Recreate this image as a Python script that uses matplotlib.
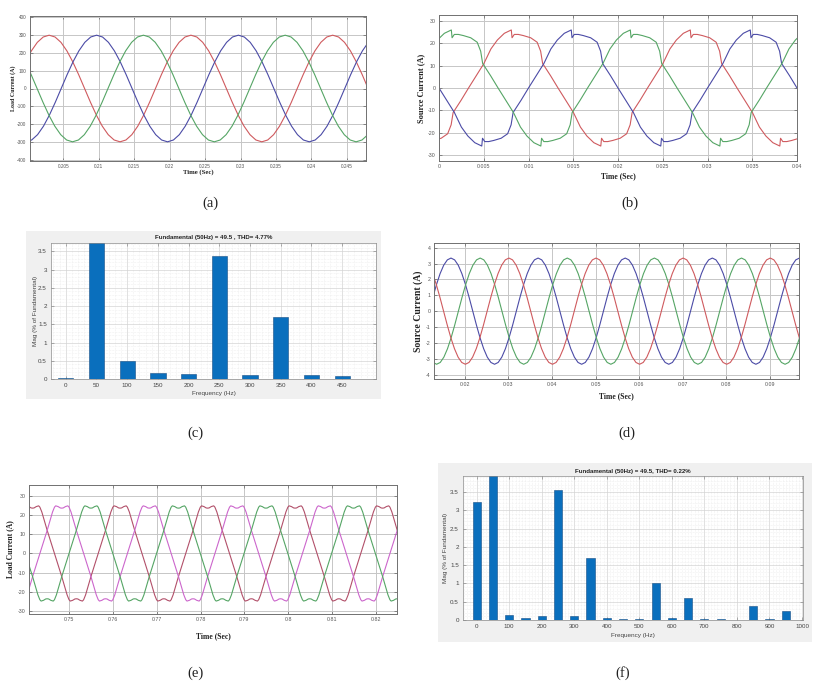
import numpy as np
import matplotlib
matplotlib.use('Agg')
import matplotlib.pyplot as plt
from matplotlib.ticker import MultipleLocator, FuncFormatter
from matplotlib.patches import Rectangle

W, H = 816, 683

# ------------------------------------------------------------------ data
PERIOD = 0.02  # 50 Hz

# one period of a clean sinusoid, read at 15 degree steps (relative to peak)
sine_deg = [0, 15, 30, 45, 60, 75, 90, 105, 120, 135, 150, 165,
            180, 195, 210, 225, 240, 255, 270, 285, 300, 315, 330, 345]
sine_val = [1.0, 0.966, 0.866, 0.707, 0.5, 0.259, 0.0, -0.259, -0.5, -0.707, -0.866, -0.966,
            -1.0, -0.966, -0.866, -0.707, -0.5, -0.259, 0.0, 0.259, 0.5, 0.707, 0.866, 0.966]

# (a) load current
a_amp = 300
a_peak = {'red': 0.2030, 'blue': 0.2097, 'green': 0.2163}
a_xticks = [0.205, 0.21, 0.215, 0.22, 0.225, 0.23, 0.235, 0.24, 0.245]
a_yticks = [-400, -300, -200, -100, 0, 100, 200, 300, 400]

# (b) source current, half-wave shape relative to rising zero crossing
b_half_deg = [0, 31, 45, 58, 72, 84, 86, 87.5, 92, 100, 110, 125, 138, 145, 149, 165]
b_half_val = [0, 11, 17.5, 21.5, 24.5, 25.8, 26, 22.5, 24, 24, 23.5, 22.5, 20.5, 16.5, 11, 5.5]
b_rise = {'red': 0.0033, 'blue': 0.0100, 'green': 0.0166}
b_xticks = [0, 0.005, 0.01, 0.015, 0.02, 0.025, 0.03, 0.035, 0.04]
b_yticks = [-30, -20, -10, 0, 10, 20, 30]

# (c) FFT of source current
c_freq = [0, 50, 100, 150, 200, 250, 300, 350, 400, 450]
c_mag = [0.02, 100, 0.48, 0.17, 0.14, 3.36, 0.10, 1.71, 0.10, 0.07]
c_title = 'Fundamental (50Hz) = 49.5 , THD= 4.77%'

# (d) compensated source current
d_amp = 3.35
d_peak = {'blue': 0.0168, 'green': 0.0235, 'red': 0.0301}
d_xticks = [0.02, 0.03, 0.04, 0.05, 0.06, 0.07, 0.08, 0.09]
d_yticks = [-4, -3, -2, -1, 0, 1, 2, 3, 4]

# (e) load current, half-wave shape relative to peak (double-humped flat top)
e_half_deg = [-90, -60, -46, -38, -30, -25, -15, -6, 0, 6, 15, 25, 30, 38, 46, 60]
e_half_val = [0, 12, 18, 21.5, 24.0, 24.7, 24.3, 23.6, 23.5, 23.6, 24.3, 24.7, 24.0, 21.5, 18, 12]
e_peak = {'rose': 0.74162, 'magenta': 0.74829, 'green': 0.75495}
e_xticks = [0.75, 0.76, 0.77, 0.78, 0.79, 0.8, 0.81, 0.82]
e_yticks = [-30, -20, -10, 0, 10, 20, 30]

# (f) FFT
f_freq = [0, 50, 100, 150, 200, 250, 300, 350, 400, 450,
          500, 550, 600, 650, 700, 750, 800, 850, 900, 950]
f_mag = [3.24, 100, 0.14, 0.05, 0.11, 3.56, 0.10, 1.69, 0.06, 0.03,
         0.04, 1.00, 0.05, 0.60, 0.03, 0.03, 0.01, 0.38, 0.03, 0.25]
f_title = 'Fundamental (50Hz) = 49.5, THD= 0.22%'

COL = {'red': '#cf5a5e', 'blue': '#4b4ba6', 'green': '#55a565',
       'rose': '#b2506a', 'magenta': '#cc66cc'}

SERIF = ['Liberation Serif', 'DejaVu Serif']
SANS = ['Liberation Sans', 'DejaVu Sans']

# ------------------------------------------------------------------ helpers
fig = plt.figure(figsize=(W / 100, H / 100), dpi=100)
fig.patch.set_facecolor('white')


def ax_px(box):
    x0, y0, x1, y1 = box
    return fig.add_axes([x0 / W, 1 - y1 / H, (x1 - x0) / W, (y1 - y0) / H])


def tile(deg, val, t_ref, t0, t1):
    deg = np.asarray(deg, float)
    val = np.asarray(val, float)
    k0 = int(np.floor((t0 - t_ref) / PERIOD)) - 1
    k1 = int(np.ceil((t1 - t_ref) / PERIOD)) + 1
    ts = [t_ref + (deg / 360.0 + k) * PERIOD for k in range(k0, k1 + 1)]
    vs = [val for _ in range(k0, k1 + 1)]
    return np.concatenate(ts), np.concatenate(vs)


def full_wave(half_deg, half_val):
    deg = list(half_deg) + [d + 180 for d in half_deg]
    val = list(half_val) + [-v for v in half_val]
    return deg, val


def place_labels(ax, box, xlab_y, ylab_x):
    x0, y0, x1, y1 = box
    ax.xaxis.set_label_coords(0.5, (y1 - xlab_y) / (y1 - y0))
    ax.xaxis.label.set_va('center')
    ax.yaxis.set_label_coords((ylab_x - x0) / (x1 - x0), 0.5)
    ax.yaxis.label.set_va('center')


def style_time(ax, box, xlim, ylim, xticks, yticks, ylabel, xlab_y, ylab_x,
               lab_fs=(5.5, 6), tick_fs=4):
    ax.set_xlim(xlim)
    ax.set_ylim(ylim)
    ax.set_xticks(xticks)
    ax.set_yticks(yticks)
    ax.xaxis.set_major_formatter(FuncFormatter(lambda v, p: '%g' % v))
    ax.yaxis.set_major_formatter(FuncFormatter(lambda v, p: '%g' % v))
    ax.grid(True, color='#c6c6c6', lw=0.7)
    ax.set_axisbelow(True)
    ax.tick_params(direction='in', length=2, width=0.5, labelsize=tick_fs,
                   labelcolor='#555555', color='#666666', top=True, right=True, pad=2.5)
    for s in ax.spines.values():
        s.set_color('#707070')
        s.set_linewidth(0.7)
    for lab in ax.get_xticklabels() + ax.get_yticklabels():
        lab.set_fontfamily(SANS)
    ax.set_xlabel('Time (Sec)', fontfamily=SERIF, fontweight='bold', fontsize=lab_fs[0], color='#222222')
    ax.set_ylabel(ylabel, fontfamily=SERIF, fontweight='bold', fontsize=lab_fs[1], color='#222222')
    place_labels(ax, box, xlab_y, ylab_x)


def style_fft(ax, box, bg, xlim, ylim, xticks, title, title_y, xlab_y, ylab_x):
    bx0, by0, bx1, by1 = bg
    fig.add_artist(Rectangle((bx0 / W, 1 - by1 / H), (bx1 - bx0) / W, (by1 - by0) / H,
                             transform=fig.transFigure, facecolor='#f0f0f0',
                             edgecolor='none', zorder=-5))
    ax.set_facecolor('white')
    ax.set_xlim(xlim)
    ax.set_xticks(xticks)
    ax.set_yticks([0, 0.5, 1, 1.5, 2, 2.5, 3, 3.5])
    ax.set_ylim(ylim)
    ax.yaxis.set_major_formatter(FuncFormatter(lambda v, p: '%g' % v))
    ax.xaxis.set_major_formatter(FuncFormatter(lambda v, p: '%g' % v))
    ax.xaxis.set_minor_locator(MultipleLocator(10))
    ax.yaxis.set_minor_locator(MultipleLocator(0.1))
    ax.grid(True, which='major', color='#d4d4d4', lw=0.5)
    ax.grid(True, which='minor', color='#e4e4e4', lw=0.4, ls=':')
    ax.set_axisbelow(True)
    ax.tick_params(which='both', direction='in', top=True, right=True,
                   color='#777777', width=0.4)
    ax.tick_params(which='major', length=2, labelsize=4.5, labelcolor='#444444', pad=3)
    ax.tick_params(which='minor', length=0)
    for s in ax.spines.values():
        s.set_color('#8a8a8a')
        s.set_linewidth(0.5)
    for lab in ax.get_xticklabels() + ax.get_yticklabels():
        lab.set_fontfamily(SANS)
    ax.set_xlabel('Frequency (Hz)', fontfamily=SANS, fontsize=4.6, color='#444444')
    ax.set_ylabel('Mag (% of Fundamental)', fontfamily=SANS, fontsize=4.6, color='#444444')
    place_labels(ax, box, xlab_y, ylab_x)
    x0, y0, x1, y1 = box
    fig.text((x0 + x1) / 2 / W, 1 - title_y / H, title, ha='center', va='center',
             fontfamily=SANS, fontweight='bold', fontsize=4.4, color='#222222')


# ------------------------------------------------------------------ (a)
box_a = (30, 16, 366, 161)
ax = ax_px(box_a)
xl = (0.2003, 0.2477)
for name in ['red', 'blue', 'green']:
    t, v = tile(sine_deg, sine_val, a_peak[name], *xl)
    ax.plot(t, a_amp * v, color=COL[name], lw=0.8)
style_time(ax, box_a, xl, (-408, 408), a_xticks, a_yticks, 'Load Current (A)',
           xlab_y=172, ylab_x=13, lab_fs=(4.8, 4.3), tick_fs=3.4)

# ------------------------------------------------------------------ (b)
box_b = (439, 15, 797, 161)
ax = ax_px(box_b)
xl = (0.0, 0.04)
b_deg, b_val = full_wave(b_half_deg, b_half_val)
for name in ['red', 'blue', 'green']:
    t, v = tile(b_deg, b_val, b_rise[name], *xl)
    ax.plot(t, v, color=COL[name], lw=0.8)
style_time(ax, box_b, xl, (-32.7, 32.7), b_xticks, b_yticks, 'Source Current (A)',
           xlab_y=176, ylab_x=421, lab_fs=(5.5, 6.0), tick_fs=3.8)

# ------------------------------------------------------------------ (c)
box_c = (51, 243, 376, 379)
ax = ax_px(box_c)
ax.bar(c_freq, c_mag, width=25, color='#0a6fbd', edgecolor='#174f86', linewidth=0.4)
style_fft(ax, box_c, (26, 231, 381, 399), (-24, 505), (0, 3.73), c_freq, c_title,
          title_y=238, xlab_y=394, ylab_x=35)

# ------------------------------------------------------------------ (d)
box_d = (434, 243, 799, 379)
ax = ax_px(box_d)
xl = (0.0129, 0.0967)
for name in ['blue', 'green', 'red']:
    t, v = tile(sine_deg, sine_val, d_peak[name], *xl)
    ax.plot(t, d_amp * v, color=COL[name], lw=0.8)
style_time(ax, box_d, xl, (-4.28, 4.3), d_xticks, d_yticks, 'Source Current (A)',
           xlab_y=396, ylab_x=418, lab_fs=(5.5, 7.0), tick_fs=3.8)

# ------------------------------------------------------------------ (e)
box_e = (29, 485, 397, 614)
ax = ax_px(box_e)
xl = (0.7408, 0.8249)
e_deg, e_val = full_wave(e_half_deg, e_half_val)
for name in ['rose', 'magenta', 'green']:
    t, v = tile(e_deg, e_val, e_peak[name], *xl)
    ax.plot(t, v, color=COL[name], lw=0.8)
style_time(ax, box_e, xl, (-31.4, 35.5), e_xticks, e_yticks, 'Load Current (A)',
           xlab_y=636, ylab_x=10, lab_fs=(5.5, 5.5), tick_fs=3.8)

# ------------------------------------------------------------------ (f)
box_f = (463, 476, 803, 620)
ax = ax_px(box_f)
ax.bar(f_freq, f_mag, width=25, color='#0a6fbd', edgecolor='#174f86', linewidth=0.4)
style_fft(ax, box_f, (438, 463, 812, 642), (-42, 1003), (0, 3.94),
          [0, 100, 200, 300, 400, 500, 600, 700, 800, 900, 1000], f_title,
          title_y=471.5, xlab_y=636, ylab_x=445)

# ------------------------------------------------------------------ captions
for lab, (x, y) in {'(a)': (210, 203), '(b)': (630, 203), '(c)': (195, 433),
                    '(d)': (627, 433), '(e)': (195, 673), '(f)': (623, 673)}.items():
    fig.text(x / W, 1 - y / H, lab, ha='center', va='center',
             fontfamily=SERIF, fontsize=10.5, color='#222222')

fig.savefig('out.png', dpi=100, facecolor='white')
